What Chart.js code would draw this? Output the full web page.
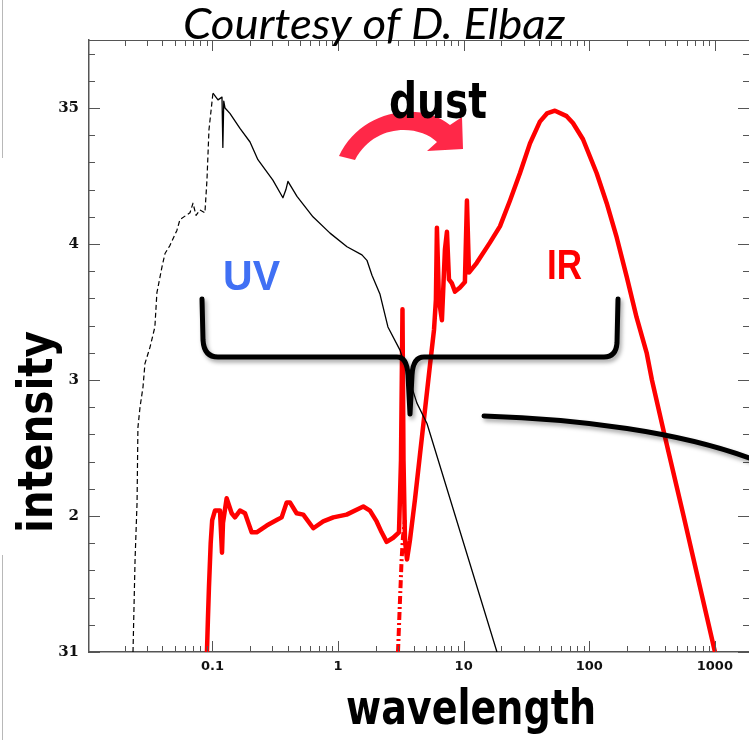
<!DOCTYPE html>
<html>
<head>
<meta charset="utf-8">
<script src="https://cdn.jsdelivr.net/npm/chart.js@4.4.1/dist/chart.umd.min.js"></script>
<style>
  html, body { margin: 0; padding: 0; background: #fff; overflow: hidden; }
  #wrap { width: 749px; height: 740px; position: relative; }
</style>
</head>
<body>
<div id="wrap"><canvas id="sed"></canvas></div>
<script>
// ===== DATA =====
const xTickVals = [0.1, 1, 10, 100, 1000];
const xTickLabels = ["0.1", "1", "10", "100", "1000"];
const yTickVals = [1, 2, 3, 4, 5];
const yTickLabels = ["31", "2", "3", "4", "35"];
const xMin = 0.0104, xMax = 1870, yMin = 1, yMax = 5.5;

// stellar spectrum, rising part (dashed)
const starRiseWl = [0.0233, 0.0242, 0.0251, 0.0255, 0.0265, 0.0280, 0.0290, 0.0318, 0.0348, 0.0361,
  0.0396, 0.0419, 0.0459, 0.0521, 0.0551, 0.0662, 0.0700, 0.0740, 0.0794, 0.0871, 0.0904, 0.0938, 0.1009];
const starRiseFlux = [1.00, 1.68, 2.10, 2.65, 2.80, 2.95, 3.12, 3.24, 3.39, 3.64,
  3.83, 3.93, 3.99, 4.10, 4.18, 4.23, 4.30, 4.21, 4.25, 4.23, 4.47, 4.84, 5.11];

// stellar spectrum, after the peak (solid)
const starWl = [0.1009, 0.1107, 0.1191, 0.1210, 0.1230, 0.1259, 0.1377, 0.1656, 0.1991, 0.2301, 0.3027,
  0.3639, 0.3846, 0.3990, 0.4710, 0.6310, 0.8630, 1.178, 1.549, 1.698, 1.862, 2.158, 2.495,
  3.112, 4.246, 5.105, 18.41];
const starFlux = [5.11, 5.06, 5.08, 4.71, 5.05, 5.00, 4.96, 4.85, 4.75, 4.62, 4.47,
  4.34, 4.40, 4.46, 4.35, 4.20, 4.08, 3.98, 3.92, 3.88, 3.77, 3.63, 3.39,
  3.22, 2.83, 2.68, 1.00];

// attenuated starlight + dust emission (red, solid)
const galWl = [0.0904, 0.0920, 0.0938, 0.0968, 0.0995, 0.1047, 0.1148, 0.1191, 0.1213, 0.1297,
  0.1422, 0.1510, 0.1656, 0.1816, 0.2051, 0.2249, 0.2704, 0.3243, 0.3556, 0.3899,
  0.4140, 0.4677, 0.5284, 0.6353, 0.7621, 0.9162, 1.169, 1.589, 1.795, 2.028,
  2.223, 2.438, 2.748, 3.055, 3.170, 3.258, 3.319, 3.412, 3.540, 3.733,
  4.093, 4.487, 4.920, 5.395, 5.808, 6.012, 6.124, 6.353, 6.714, 7.096,
  7.362, 7.638, 8.072, 8.531, 9.354, 10.23, 10.62, 11.02, 12.68, 16.18,
  19.45, 23.39, 28.05, 33.73, 40.46, 46.03, 53.33, 66.07, 74.13, 89.13,
  114.6, 137.7, 165.2, 198.6, 238.2, 286.4, 315.5, 400.9, 557.2, 760.3, 1002];
const galFlux = [1.00, 1.24, 1.48, 1.80, 1.97, 2.04, 2.04, 1.73, 1.95, 2.13,
  2.02, 1.99, 2.04, 2.02, 1.88, 1.88, 1.93, 1.97, 1.99, 2.10,
  2.10, 2.02, 2.01, 1.91, 1.96, 1.99, 2.01, 2.07, 2.04, 1.96,
  1.88, 1.81, 1.84, 1.88, 2.41, 3.52, 2.41, 1.82, 1.68, 1.82,
  2.12, 2.45, 2.78, 3.11, 3.37, 3.59, 4.12, 3.59, 3.44, 3.96,
  4.09, 3.74, 3.71, 3.65, 3.68, 3.72, 4.32, 3.79, 3.86, 4.01,
  4.13, 4.32, 4.52, 4.74, 4.90, 4.96, 4.98, 4.94, 4.89, 4.77,
  4.52, 4.30, 4.05, 3.76, 3.46, 3.20, 3.00, 2.58, 2.02, 1.48, 1.00];

// hot dust tail (red, dash-dot)
const hotWl = [3.000, 3.112, 3.206, 3.289, 3.412];
const hotFlux = [1.00, 1.38, 1.68, 1.85, 1.97];

const pts = (xs, ys) => xs.map((v, i) => ({ x: v, y: ys[i] }));

// ===== DRAW HELPERS =====
function fitText(ctx, text, x, base, width, font, color, rot) {
  ctx.save();
  ctx.font = font;
  ctx.fillStyle = color;
  ctx.textAlign = "left";
  ctx.textBaseline = "alphabetic";
  const sx = width / ctx.measureText(text).width;
  ctx.translate(x, base);
  if (rot) ctx.rotate(rot);
  ctx.scale(sx, 1);
  ctx.fillText(text, 0, 0);
  ctx.restore();
}

const frame = {
  id: "frame",
  beforeDraw(chart) {
    const ctx = chart.ctx;
    ctx.save();
    ctx.strokeStyle = "#b8b8b8";
    ctx.lineWidth = 1;
    ctx.beginPath();
    ctx.moveTo(2.5, 0); ctx.lineTo(2.5, 158);
    ctx.moveTo(2.5, 555); ctx.lineTo(2.5, 740);
    ctx.stroke();
    ctx.restore();
  },
  afterDraw(chart) {
    const { ctx, chartArea: a, scales: { x, y } } = chart;
    ctx.save();
    ctx.strokeStyle = "#555";
    ctx.lineWidth = 1;
    ctx.beginPath();
    ctx.moveTo(a.left, a.top + 0.5); ctx.lineTo(a.right, a.top + 0.5);
    for (let e = -2; e <= 3; e++) {
      for (let k = 1; k <= 9; k++) {
        const v = k * Math.pow(10, e);
        if (v < xMin || v > xMax) continue;
        const px = Math.round(x.getPixelForValue(v)) + 0.5;
        const len = k === 1 ? 11 : 6;
        ctx.moveTo(px, a.bottom); ctx.lineTo(px, a.bottom - len);
        ctx.moveTo(px, a.top); ctx.lineTo(px, a.top + len);
      }
    }
    for (let i = 0; i <= 22; i++) {
      const v = yMin + i * 0.2;
      const py = Math.round(y.getPixelForValue(v)) + 0.5;
      const len = Math.abs(v - Math.round(v)) < 0.01 ? 11 : 6;
      ctx.moveTo(a.left, py); ctx.lineTo(a.left + len, py);
      ctx.moveTo(a.right, py); ctx.lineTo(a.right - len, py);
    }
    ctx.stroke();
    ctx.restore();

    // curved "dust" arrow
    ctx.save();
    ctx.fillStyle = "#ff2848";
    ctx.beginPath();
    ctx.moveTo(339, 156);
    ctx.bezierCurveTo(360, 110, 420, 100, 450, 125);
    ctx.lineTo(462, 117);
    ctx.lineTo(463, 149);
    ctx.lineTo(427, 151);
    ctx.lineTo(437, 142);
    ctx.bezierCurveTo(420, 125, 375, 122, 355, 160);
    ctx.closePath();
    ctx.fill();
    ctx.restore();

    // brace + black stroke at right
    ctx.save();
    ctx.strokeStyle = "#000";
    ctx.lineWidth = 5;
    ctx.lineCap = "round";
    ctx.lineJoin = "round";
    ctx.shadowColor = "rgba(0,0,0,0.35)";
    ctx.shadowBlur = 4;
    ctx.shadowOffsetX = 2;
    ctx.shadowOffsetY = 3;
    ctx.beginPath();
    ctx.moveTo(202, 299);
    ctx.lineTo(203, 340);
    ctx.quadraticCurveTo(204, 357, 218, 357);
    ctx.lineTo(397, 357);
    ctx.quadraticCurveTo(407, 357, 408, 375);
    ctx.lineTo(410, 414);
    ctx.moveTo(410, 414);
    ctx.lineTo(412, 375);
    ctx.quadraticCurveTo(413, 357, 424, 357);
    ctx.lineTo(604, 357);
    ctx.quadraticCurveTo(616, 357, 617, 343);
    ctx.lineTo(618, 299);
    ctx.stroke();
    ctx.beginPath();
    ctx.moveTo(484, 416);
    ctx.bezierCurveTo(580, 419, 680, 432, 752, 459);
    ctx.stroke();
    ctx.restore();

    // texts
    fitText(ctx, "Courtesy of D. Elbaz", 183, 39, 382, "italic 42px Lato", "#000");
    fitText(ctx, "dust", 389, 118, 98, "bold 50px 'DejaVu Sans'", "#000");
    fitText(ctx, "UV", 223, 290, 57, "bold 42px 'Liberation Sans'", "#4070f4");
    fitText(ctx, "IR", 547, 279, 35, "bold 42px 'Liberation Sans'", "#ff0000");
    fitText(ctx, "intensity", 52, 533, 202, "bold 48px 'DejaVu Sans'", "#000", -Math.PI / 2);
    fitText(ctx, "wavelength", 346, 724, 250, "bold 48px 'DejaVu Sans'", "#000");
  }
};

// ===== CHART =====
new Chart(document.getElementById("sed"), {
  type: "line",
  data: {
    datasets: [
      { data: pts(starRiseWl, starRiseFlux), borderColor: "#000", borderWidth: 1.2, borderDash: [5, 3] },
      { data: pts(starWl, starFlux), borderColor: "#000", borderWidth: 1.3 },
      { data: pts(hotWl, hotFlux), borderColor: "#ff0000", borderWidth: 4, borderDash: [8, 3, 2, 3] },
      { data: pts(galWl, galFlux), borderColor: "#ff0000", borderWidth: 4.5 }
    ]
  },
  options: {
    responsive: true,
    maintainAspectRatio: false,
    animation: false,
    parsing: false,
    layout: { padding: { top: 40, right: 0, left: 0, bottom: 0 } },
    elements: { point: { radius: 0 }, line: { tension: 0, borderJoinStyle: "round" } },
    plugins: { legend: { display: false }, tooltip: { enabled: false } },
    scales: {
      x: {
        type: "logarithmic",
        min: xMin, max: xMax,
        afterFit: s => { s.height = 88; },
        afterBuildTicks: s => { s.ticks = xTickVals.map(v => ({ value: v })); },
        grid: { display: false, drawTicks: false },
        border: { display: true, color: "#555", width: 1.5 },
        ticks: {
          autoSkip: false, maxRotation: 0, padding: 7, color: "#111",
          font: { family: "DejaVu Sans", size: 13, weight: "bold" },
          callback: v => xTickLabels[xTickVals.indexOf(v)] || ""
        }
      },
      y: {
        type: "linear",
        min: yMin, max: yMax,
        afterFit: s => { s.width = 89; },
        afterBuildTicks: s => { s.ticks = yTickVals.map(v => ({ value: v })); },
        grid: { display: false, drawTicks: false },
        border: { display: true, color: "#555", width: 1.5 },
        ticks: {
          padding: 10, color: "#111",
          font: { family: "DejaVu Serif", size: 15, weight: "bold" },
          callback: v => yTickLabels[yTickVals.indexOf(v)] || ""
        }
      }
    }
  },
  plugins: [frame]
});
</script>
</body>
</html>
